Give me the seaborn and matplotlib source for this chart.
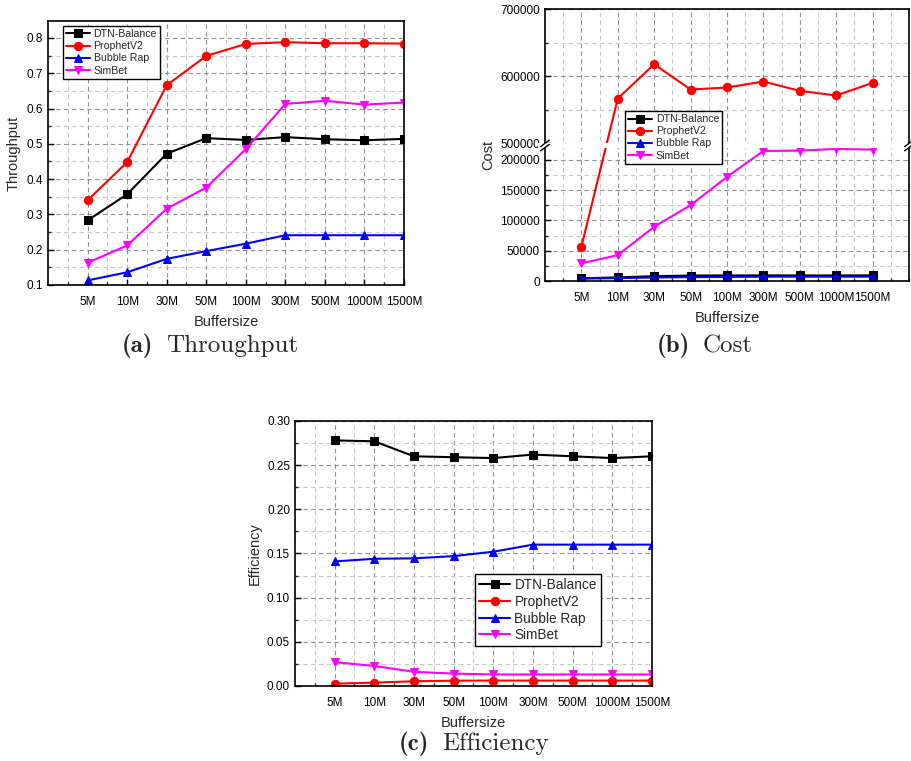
import numpy as np
import pandas as pd
import matplotlib
matplotlib.use("Agg")
import matplotlib.pyplot as plt
import matplotlib.transforms as mtransforms
from matplotlib.patches import Rectangle
import seaborn as sns

# ---------------- data ----------------
buffers = ["5M", "10M", "30M", "50M", "100M", "300M", "500M", "1000M", "1500M"]
series = ["DTN-Balance", "ProphetV2", "Bubble Rap", "SimBet"]

thr_dtn = [0.283, 0.357, 0.472, 0.516, 0.511, 0.519, 0.513, 0.510, 0.514]
thr_prophet = [0.340, 0.448, 0.666, 0.749, 0.783, 0.788, 0.785, 0.785, 0.784]
thr_bubble = [0.113, 0.136, 0.174, 0.196, 0.217, 0.241, 0.241, 0.241, 0.241]
thr_simbet = [0.163, 0.212, 0.316, 0.376, 0.485, 0.613, 0.622, 0.611, 0.617]

cost_dtn = [4500, 6000, 8000, 9000, 9200, 9300, 9200, 9200, 9300]
cost_prophet = [56500, 566800, 617800, 580200, 583200, 592100, 578200, 571300, 590100]
cost_bubble = [4000, 4800, 5800, 6500, 6800, 7200, 7200, 7200, 7200]
cost_simbet = [29000, 42800, 89400, 125000, 171600, 214400, 215000, 217700, 216600]

eff_dtn = [0.278, 0.277, 0.260, 0.259, 0.258, 0.262, 0.260, 0.258, 0.260]
eff_prophet = [0.0026, 0.0038, 0.0053, 0.0060, 0.0061, 0.0061, 0.0061, 0.0061, 0.0061]
eff_bubble = [0.141, 0.144, 0.1445, 0.147, 0.152, 0.160, 0.160, 0.160, 0.160]
eff_simbet = [0.027, 0.0226, 0.016, 0.014, 0.013, 0.013, 0.013, 0.013, 0.013]

colors = {"DTN-Balance": "#000000", "ProphetV2": "#ff0000",
          "Bubble Rap": "#0000ff", "SimBet": "#ff00ff"}
markers = {"DTN-Balance": "s", "ProphetV2": "o", "Bubble Rap": "^", "SimBet": "v"}

sns.set_style("white")
plt.rcParams["font.family"] = ["Liberation Sans", "DejaVu Sans"]

fig = plt.figure(figsize=(9.11, 7.61), dpi=100)

def to_df(vals_list):
    rows = []
    for name, vals in zip(series, vals_list):
        for i, v in enumerate(vals):
            rows.append({"pos": i + 1, "value": v, "series": name})
    return pd.DataFrame(rows)

def draw_series(ax, df, ms=6):
    for name in series:
        sub = df[df["series"] == name]
        sns.lineplot(data=sub, x="pos", y="value", ax=ax, color=colors[name],
                     marker=markers[name], markersize=ms, markeredgecolor=colors[name],
                     linewidth=1.5, label=name, zorder=2)

def style_axes(ax, xmax, ylabel):
    ax.set_xlim(0, xmax)
    ax.set_xticks(range(1, 10))
    ax.set_xticklabels(buffers)
    ax.set_xticks(np.arange(0.5, xmax + 0.01, 0.5), minor=True)
    ax.grid(True, which="major", color="#909090", linestyle=(0, (4, 3)), linewidth=0.8)
    ax.grid(True, which="minor", color="#c8c8c8", linestyle=(0, (4, 3)), linewidth=0.8)
    ax.tick_params(axis="both", which="major", direction="in", length=4, width=1,
                   labelsize=8.5, colors="black", left=True, bottom=True)
    ax.tick_params(axis="both", which="minor", direction="in", length=2, width=1,
                   left=True, bottom=True)
    ax.tick_params(axis="x", which="major", pad=8)
    for s in ax.spines.values():
        s.set_color("black")
        s.set_linewidth(1.2)
    ax.set_xlabel("Buffersize", fontsize=10.5, labelpad=5)
    ax.set_ylabel(ylabel, fontsize=10.5)

def make_legend(ax, anchor, fs=7.6):
    leg = ax.legend(loc="upper left", bbox_to_anchor=anchor, borderaxespad=0,
                    fontsize=fs, frameon=True, fancybox=False, framealpha=1,
                    edgecolor="black", handlelength=2.3, handletextpad=0.3,
                    labelspacing=0.2, borderpad=0.3)
    leg.get_frame().set_linewidth(1.0)
    leg.set_zorder(10)

# ---------------- (a) Throughput ----------------
axA = fig.add_axes([0.0527, 0.6255, 0.3908, 0.3469])
draw_series(axA, to_df([thr_dtn, thr_prophet, thr_bubble, thr_simbet]))
style_axes(axA, 9, "Throughput")
axA.set_ylim(0.1, 0.848)
axA.set_yticks(np.arange(0.1, 0.81, 0.1))
axA.set_yticklabels([f"{v:.1f}" for v in np.arange(0.1, 0.81, 0.1)])
axA.set_yticks(np.arange(0.15, 0.85, 0.1), minor=True)
make_legend(axA, (0.042, 0.981))

# ---------------- (b) Cost (broken axis) ----------------
L, U = 220000.0, 500000.0
a_lo, b_hi, gap = 0.000608, 0.000673, 4.2

def fwd(y):
    y = np.asarray(y, dtype=float)
    return np.where(y <= L, y * a_lo,
                    np.where(y < U, L * a_lo + (y - L) / (U - L) * gap,
                             L * a_lo + gap + (y - U) * b_hi))

def inv(t):
    t = np.asarray(t, dtype=float)
    t1 = L * a_lo
    t2 = t1 + gap
    return np.where(t <= t1, t / a_lo,
                    np.where(t < t2, L + (t - t1) / gap * (U - L),
                             U + (t - t2) / b_hi))

axB = fig.add_axes([0.5982, 0.6307, 0.3996, 0.3574])
draw_series(axB, to_df([cost_dtn, cost_prophet, cost_bubble, cost_simbet]))
style_axes(axB, 10, "Cost")
axB.set_yscale("function", functions=(fwd, inv))
axB.set_ylim(0, 700000)
yt = [0, 50000, 100000, 150000, 200000, 500000, 600000, 700000]
axB.set_yticks(yt)
axB.set_yticklabels([str(v) for v in yt])
axB.set_yticks([25000, 75000, 125000, 175000, 550000, 650000], minor=True)
axB.yaxis.get_label().set_position((0, 0.465))
# white break band
trans = mtransforms.blended_transform_factory(axB.transAxes, axB.transData)
axB.add_patch(Rectangle((-0.02, L), 1.04, U - L, transform=trans, facecolor="white",
                        edgecolor="none", zorder=3, clip_on=False))
tmax = float(fwd(700000))
ymid = float((fwd(L) + fwd(U)) / 2) / tmax
dy = 2.1 / 272.0
for xb in (0.0, 1.0):
    for off in (-dy, dy):
        axB.plot([xb - 0.012, xb + 0.012], [ymid + off - 0.012, ymid + off + 0.012],
                 transform=axB.transAxes, color="black", lw=1.0, clip_on=False, zorder=4)
make_legend(axB, (0.22, 0.625))

# ---------------- (c) Efficiency ----------------
axC = fig.add_axes([0.3238, 0.0986, 0.3919, 0.3482])
draw_series(axC, to_df([eff_dtn, eff_prophet, eff_bubble, eff_simbet]))
style_axes(axC, 9, "Efficiency")
axC.set_ylim(0, 0.30)
axC.set_yticks(np.arange(0, 0.301, 0.05))
axC.set_yticklabels([f"{v:.2f}" for v in np.arange(0, 0.301, 0.05)])
axC.set_yticks(np.arange(0.025, 0.3, 0.05), minor=True)
make_legend(axC, (0.504, 0.4226), fs=9.8)

# ---------------- captions ----------------
def caption(x_right_lbl, x_left_txt, y, lbl, txt):
    fig.text(x_right_lbl / 911, 1 - y / 761, lbl, family="cmb10",
             ha="right", va="center", fontsize=18)
    fig.text(x_left_txt / 911, 1 - y / 761, txt, family="cmr10",
             ha="left", va="center", fontsize=18)

caption(153, 166, 346, "(a)", "Throughput")
caption(690, 703, 346, "(b)", "Cost")
caption(429, 442, 744, "(c)", "Efficiency")

fig.savefig("out.png", dpi=100)
